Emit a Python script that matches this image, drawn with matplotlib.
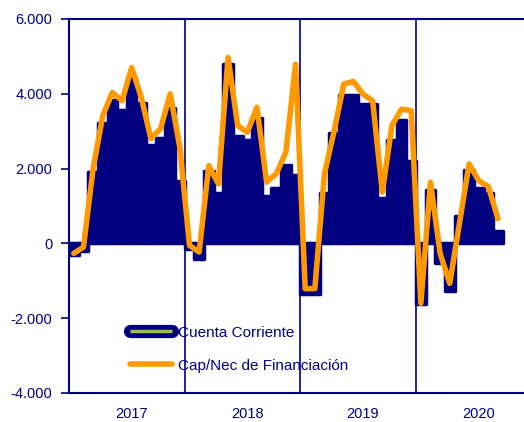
import numpy as np
import matplotlib.pyplot as plt
from matplotlib.lines import Line2D
from matplotlib.legend_handler import HandlerTuple

plt.rcParams['font.family'] = ['Liberation Sans', 'DejaVu Sans']

navy = '#000080'
orange = '#FF9900'

# saldo mensual, millones de euros (ene 2017 - sep 2020)
cuenta_corriente = [-300, -200, 1900, 3220, 3830, 3570, 4420, 3750, 2630, 2820, 3620, 1680,
                    -150, -430, 1940, 1350, 4800, 2870, 2770, 3350, 1270, 1480, 2100, 1840,
                    -1350, -1350, 1350, 2950, 3970, 3970, 3720, 3720, 1220, 2770, 3300, 2200,
                    -1630, 1440, -530, -1270, 740, 1970, 1480, 1350, 330]
cap_nec = [-267, -98, 2000, 3413, 4035, 3813, 4700, 3900, 2800, 3067, 4000, 2560,
           -53, -230, 2080, 1590, 4970, 3150, 2970, 3640, 1640, 1860, 2440, 4790,
           -1210, -1210, 1860, 3000, 4260, 4330, 3990, 3810, 1370, 3150, 3590, 3550,
           -1600, 1635, -270, -1070, 530, 2125, 1680, 1520, 660]
years = ['2017', '2018', '2019', '2020']
yticks = [-4000, -2000, 0, 2000, 4000, 6000]

def fmt(v):
    s = '{:,}'.format(abs(v)).replace(',', '.')
    return '-' + s if v < 0 else s

fig = plt.figure(figsize=(5.24, 4.22), dpi=100)
ax = fig.add_axes([69/524, 1-393/422, 1-69/524, (393-19)/422])

x = np.arange(len(cuenta_corriente))
bars = ax.bar(x, cuenta_corriente, width=1.0, color=navy, edgecolor=navy,
              linewidth=2.5, zorder=2)
for b in bars:
    b.set_joinstyle('round')
ax.plot(np.arange(len(cap_nec)), cap_nec, color=orange, lw=4,
        solid_joinstyle='round', solid_capstyle='round', zorder=3)

# separadores de año
for k in range(1, len(years)):
    ax.axvline(12*k - 0.5, color=navy, lw=1.2, zorder=1)

ax.set_xlim(-0.5, 46.7)
ax.set_ylim(-4000, 6000)
ax.set_yticks(yticks)
ax.set_yticklabels([fmt(v) for v in yticks])
ax.set_xticks([12*k + 6.0 for k in range(len(years))])
ax.set_xticklabels(years)
ax.tick_params(axis='y', colors=navy, labelcolor=navy, length=6, width=1.2,
               pad=6, labelsize=10.5)
ax.tick_params(axis='x', length=0, pad=10, labelcolor=navy, labelsize=10.5)

for s in ['left', 'top', 'bottom']:
    ax.spines[s].set_color(navy)
    ax.spines[s].set_linewidth(1.5)
ax.spines['right'].set_visible(False)

h1 = (Line2D([], [], color=navy, lw=9.5, solid_capstyle='round'),
      Line2D([], [], color='#9BBB59', lw=2.5, solid_capstyle='butt'))
h2 = Line2D([], [], color=orange, lw=4, solid_capstyle='round')
ax.legend([h1, h2], ['Cuenta Corriente', 'Cap/Nec de Financiación'],
          handler_map={tuple: HandlerTuple(ndivide=1, pad=0)},
          loc='upper left', bbox_to_anchor=(122/524, 1-318/422),
          bbox_transform=fig.transFigure, frameon=False, borderpad=0,
          handlelength=2.8, handletextpad=0.35, labelspacing=1.25,
          fontsize=11, labelcolor=navy)

fig.savefig('out.png', dpi=100)
